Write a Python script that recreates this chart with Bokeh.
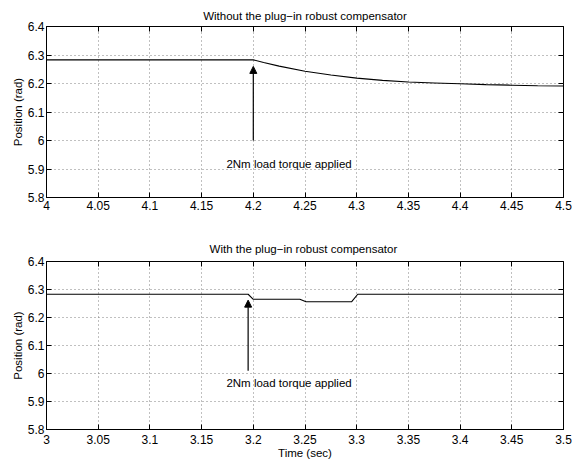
from bokeh.plotting import figure
from bokeh.layouts import column
from bokeh.models import Range1d, FixedTicker, LinearAxis, Arrow, NormalHead, Label, CustomLabelingPolicy
from bokeh.embed import file_html
from bokeh.resources import INLINE

# ---------------- data ----------------
title_top = "Without the plug\u2212in robust compensator"
title_bottom = "With the  plug\u2212in robust compensator"
y_label = "Position (rad)"
x_label = "Time (sec)"
note_text = "2Nm load torque applied"

# top panel: position without compensator
t_top = [4.0, 4.2, 4.21, 4.225, 4.25, 4.275, 4.3, 4.325, 4.35, 4.375, 4.4, 4.425, 4.45, 4.475, 4.5]
pos_top = [6.283, 6.283, 6.274, 6.261, 6.243, 6.230, 6.219, 6.211, 6.205, 6.202, 6.199, 6.196, 6.194, 6.192, 6.191]

# bottom panel: position with compensator
t_bot = [3.0, 3.195, 3.2, 3.245, 3.251, 3.295, 3.301, 3.5]
pos_bot = [6.283, 6.283, 6.265, 6.265, 6.256, 6.256, 6.283, 6.283]

# x ticks / labels
xticks_top = [4.0, 4.05, 4.1, 4.15, 4.2, 4.25, 4.3, 4.35, 4.4, 4.45, 4.5]
xlabels_top = ["4", "4.05", "4.1", "4.15", "4.2", "4.25", "4.3", "4.35", "4.4", "4.45", "4.5"]
xticks_bot = [3.0, 3.05, 3.1, 3.15, 3.2, 3.25, 3.3, 3.35, 3.4, 3.45, 3.5]
xlabels_bot = ["3", "3.05", "3.1", "3.15", "3.2", "3.25", "3.3", "3.35", "3.4", "3.45", "3.5"]
yticks = [5.8, 5.9, 6.0, 6.1, 6.2, 6.3, 6.4]
ylabels = ["5.8", "5.9", "6", "6.1", "6.2", "6.3", "6.4"]

# annotations: arrow (x, y_start, y_end) and note (x, y)
arrow_top = [4.2, 6.0, 6.26]
arrow_bot = [3.195, 6.01, 6.262]
note_top = [4.174, 5.919]
note_bot = [3.174, 5.966]

FONT = "Liberation Sans"

no_labels = CustomLabelingPolicy(code="return new Set()")


def make_panel(t, y, xticks, xlabels, xr, title, arrow, note, height, top_border,
               bottom_border, with_xlabel, x_standoff, title_standoff):
    p = figure(width=576, height=height, output_backend="svg", toolbar_location=None,
               x_range=Range1d(*xr), y_range=Range1d(5.8, 6.4),
               min_border_left=46, min_border_right=13,
               min_border_top=top_border, min_border_bottom=bottom_border,
               title=title)
    p.title.text_font = FONT
    p.title.text_font_size = "11.5px"
    p.title.text_font_style = "normal"
    p.title.align = "center"
    p.title.standoff = title_standoff
    p.title.text_color = "black"

    p.outline_line_color = "black"
    p.outline_line_alpha = 1
    p.outline_line_width = 1
    p.background_fill_color = "white"
    p.border_fill_color = "white"

    xt = FixedTicker(ticks=xticks)
    yt = FixedTicker(ticks=yticks)
    xover = {k: v for k, v in zip(xticks, xlabels)}
    yover = {k: v for k, v in zip(yticks, ylabels)}

    xa = p.xaxis[0]
    xa.ticker = xt
    xa.major_label_overrides = xover
    ya = p.yaxis[0]
    ya.ticker = yt
    ya.major_label_overrides = yover
    for ax in (xa, ya):
        ax.major_tick_in = 5
        ax.major_tick_out = 0
        ax.minor_tick_in = 0
        ax.minor_tick_out = 0
        ax.major_tick_line_color = "black"
        ax.axis_line_color = "black"
        ax.major_label_text_font = FONT
        ax.major_label_text_font_size = "12px"
        ax.major_label_text_color = "black"
        ax.axis_label_text_font = FONT
        ax.axis_label_text_font_size = "11.5px"
        ax.axis_label_text_font_style = "normal"
        ax.axis_label_text_color = "black"
    xa.major_label_standoff = x_standoff
    ya.major_label_standoff = 2
    ya.axis_label = y_label
    ya.axis_label_standoff = 1
    if with_xlabel:
        xa.axis_label = x_label
        xa.axis_label_standoff = 0

    # inward ticks on top and right, no labels
    for side, tk in (("above", xt), ("right", yt)):
        ax = LinearAxis(ticker=tk, major_tick_in=5, major_tick_out=0,
                        minor_tick_in=0, minor_tick_out=0,
                        major_label_text_font_size="0px", major_label_standoff=0,
                        major_label_policy=no_labels,
                        axis_line_color=None, major_tick_line_color="black")
        p.add_layout(ax, side)

    p.xgrid.ticker = xt
    p.ygrid.ticker = yt
    p.grid.grid_line_color = "#808080"
    p.grid.grid_line_dash = "1 3"
    p.grid.grid_line_width = 1

    p.line(t, y, line_color="black", line_width=1.1)

    p.add_layout(Arrow(end=NormalHead(size=7, fill_color="black", line_color="black"),
                       x_start=arrow[0], y_start=arrow[1], x_end=arrow[0], y_end=arrow[2],
                       line_color="black", line_width=1.2))
    p.add_layout(Label(x=note[0], y=note[1], text=note_text, text_font=FONT,
                       text_font_size="11.5px", text_baseline="middle", text_color="black"))
    return p


p1 = make_panel(t_top, pos_top, xticks_top, xlabels_top, (4.0, 4.5), title_top,
                arrow_top, note_top, 215, 26, 18, False, 3, 10)
p2 = make_panel(t_bot, pos_bot, xticks_bot, xlabels_bot, (3.0, 3.5), title_bottom,
                arrow_bot, note_bot, 246, 46, 32, True, 5, 14)

layout = column(p1, p2, spacing=0)
open("out.html", "w").write(file_html(layout, INLINE))
